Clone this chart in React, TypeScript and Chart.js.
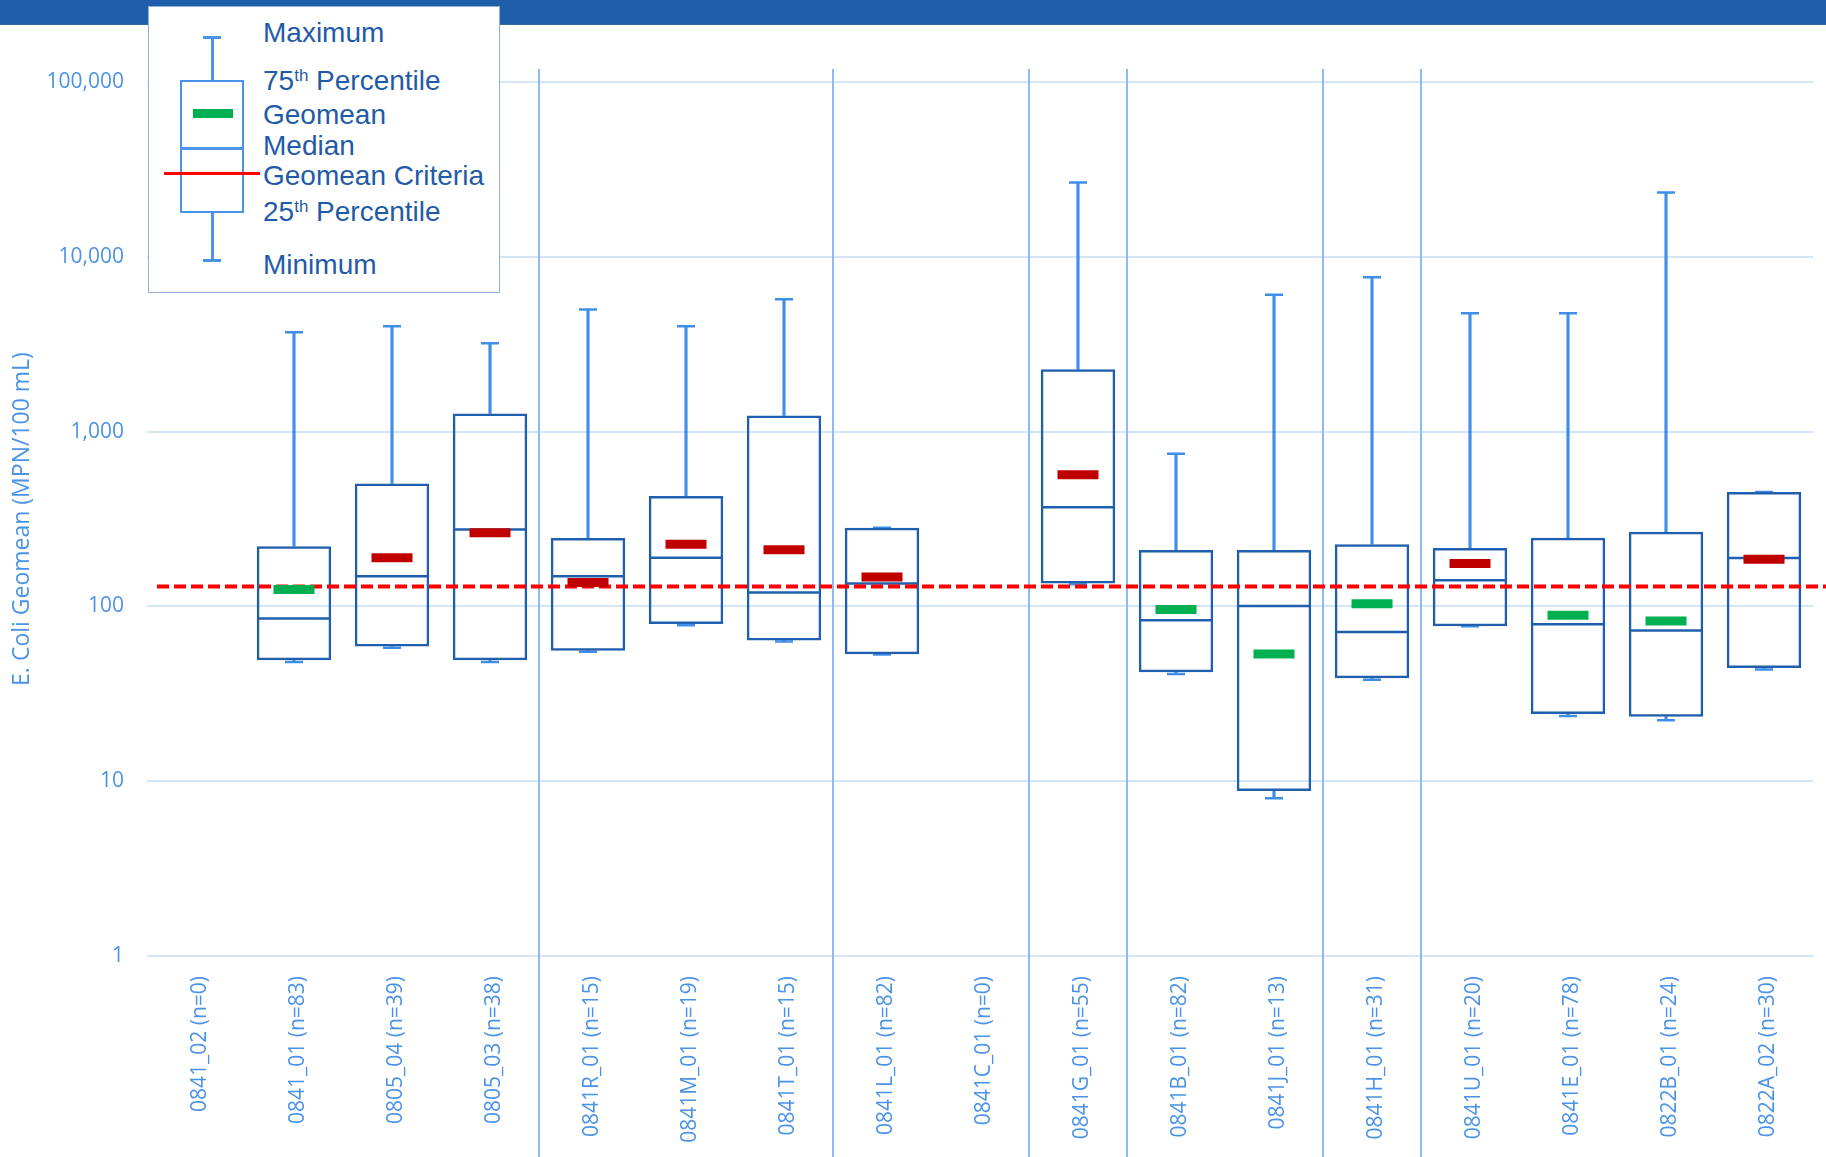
import React, { useEffect, useRef } from 'react';
import { Chart, registerables } from 'chart.js';

Chart.register(...registerables);

// ---------- data ----------
const sites = [
  '0841_02', '0841_01', '0805_04', '0805_03', '0841R_01', '0841M_01', '0841T_01', '0841L_01', '0841C_01',
  '0841G_01', '0841B_01', '0841J_01', '0841H_01', '0841U_01', '0841E_01', '0822B_01', '0822A_02',
];
const sampleCounts = [0, 83, 39, 38, 15, 19, 15, 82, 0, 55, 82, 13, 31, 20, 78, 24, 30];
const minValues = [null, 48, 58, 48, 55, 78, 63, 53, null, 134, 41, 8, 38, 77, 23.6, 22.3, 43.6];
const q1Values = [null, 49.2, 58.9, 49.2, 55.8, 79.2, 63.8, 53.2, null, 135, 42, 8.8, 38.8, 76.9, 24.2, 23.4, 44.4];
const medianValues = [null, 85.3, 148.6, 275, 148.6, 190, 120, 135, null, 369, 83.3, 100.6, 71.3, 141, 79, 72.9, 189];
const q3Values = [null, 221, 505, 1269, 246, 428, 1236, 282, null, 2270, 210, 210, 227, 216, 247, 267, 452];
const maxValues = [null, 3700, 4000, 3206, 5000, 4000, 5710, 282, null, 26650, 748, 6070, 7650, 4760, 4760, 23350, 452];
const geomeanValues = [null, 125, 190, 264, 137, 227, 211, 147.5, null, 567, 96, 53.5, 103.5, 176, 89, 82.6, 186];
const geomeanCriteria = 130;
const yTickValues = [1, 10, 100, 1000, 10000, 100000];
const separatorAfter = [3, 6, 8, 9, 11, 12];

const categoryLabels = sites.map((s, i) => `${s} (n=${sampleCounts[i]})`);

// ---------- styles ----------
const BOX_COLOR = '#1F5FAD';
const WHISKER_COLOR = '#3F8FE8';
const TICK_COLOR = '#4A93E6';
const GRID_COLOR = '#D5E5F8';
const SEPARATOR_COLOR = '#8DBAF0';
const GREEN = '#00B050';
const DARK_RED = '#C00000';
const LEGEND_TEXT = '#1F5BA8';
const FONT = "'Open Sans', 'Noto Sans', sans-serif";

const GEOMEAN_INDEX = 6;

const overlayPlugin = {
  id: 'overlay',
  beforeDatasetsDraw(chart: any) {
    const { ctx, chartArea } = chart;
    const x = chart.scales.x;
    ctx.save();
    ctx.strokeStyle = SEPARATOR_COLOR;
    ctx.lineWidth = 2;
    for (const i of separatorAfter) {
      const px = Math.round(x.getPixelForValue(i + 0.5));
      ctx.beginPath();
      ctx.moveTo(px, chartArea.top - 13);
      ctx.lineTo(px, chart.height);
      ctx.stroke();
    }
    ctx.restore();
  },
  beforeDatasetDraw(chart: any, args: any) {
    if (args.index !== GEOMEAN_INDEX) return;
    const { ctx, chartArea } = chart;
    const py = chart.scales.y.getPixelForValue(geomeanCriteria);
    ctx.save();
    ctx.strokeStyle = '#FF0000';
    ctx.lineWidth = 4;
    ctx.setLineDash([12, 5]);
    ctx.beginPath();
    ctx.moveTo(chartArea.left + 10, py);
    ctx.lineTo(chart.width, py);
    ctx.stroke();
    ctx.restore();
  },
};

function BoxChart() {
  const ref = useRef<HTMLCanvasElement | null>(null);
  useEffect(() => {
    if (!ref.current) return;
    const pair = (a: (number | null)[], b: (number | null)[]) =>
      a.map((v, i) => (v == null || b[i] == null ? null : [v, b[i] as number]));
    const chart = new Chart(ref.current, {
      type: 'bar',
      data: {
        labels: categoryLabels,
        datasets: [
          {
            type: 'bar',
            data: pair(q3Values, maxValues) as any,
            backgroundColor: WHISKER_COLOR,
            borderWidth: 0,
            barThickness: 2.5,
            grouped: false,
            order: 6,
          } as any,
          {
            type: 'bar',
            data: pair(minValues, q1Values) as any,
            backgroundColor: WHISKER_COLOR,
            borderWidth: 0,
            barThickness: 2.5,
            grouped: false,
            order: 6,
          } as any,
          {
            type: 'line',
            data: maxValues as any,
            showLine: false,
            pointStyle: 'line',
            pointRadius: 9,
            pointBorderWidth: 2.5,
            pointBorderColor: WHISKER_COLOR,
            order: 5,
          } as any,
          {
            type: 'line',
            data: minValues as any,
            showLine: false,
            pointStyle: 'line',
            pointRadius: 9,
            pointBorderWidth: 2.5,
            pointBorderColor: WHISKER_COLOR,
            order: 5,
          } as any,
          {
            type: 'bar',
            data: pair(q1Values, q3Values) as any,
            backgroundColor: 'rgba(255,255,255,0)',
            borderColor: BOX_COLOR,
            borderWidth: 2.5,
            borderSkipped: false,
            barPercentage: 0.76,
            categoryPercentage: 1,
            grouped: false,
            order: 3,
          } as any,
          {
            type: 'line',
            data: medianValues as any,
            showLine: false,
            pointStyle: 'line',
            pointRadius: 37,
            pointBorderWidth: 2.5,
            pointBorderColor: BOX_COLOR,
            order: 2,
          } as any,
          {
            type: 'line',
            data: geomeanValues as any,
            showLine: false,
            pointStyle: 'line',
            pointRadius: 20.5,
            pointBorderWidth: 9,
            pointBorderColor: geomeanValues.map((v) => (v != null && v > geomeanCriteria ? DARK_RED : GREEN)),
            order: 1,
          } as any,
        ],
      },
      options: {
        responsive: false,
        maintainAspectRatio: false,
        animation: false,
        events: [],
        layout: { autoPadding: false, padding: { left: 0, right: 13, top: 82, bottom: 0 } },
        plugins: { legend: { display: false }, tooltip: { enabled: false } },
        scales: {
          x: {
            type: 'category',
            offset: true,
            grid: { display: false, drawTicks: false },
            border: { display: false },
            ticks: {
              autoSkip: false,
              minRotation: 90,
              maxRotation: 90,
              padding: 20,
              labelOffset: 4,
              color: TICK_COLOR,
              font: { family: FONT, size: 21 },
            },
            afterFit: (s: any) => {
              s.height = 201;
            },
          },
          y: {
            type: 'logarithmic',
            min: 1,
            max: 100000,
            grid: { color: GRID_COLOR, lineWidth: 2, drawTicks: false },
            border: { display: false },
            afterBuildTicks: (s: any) => {
              s.ticks = yTickValues.map((v) => ({ value: v }));
            },
            ticks: {
              padding: 23,
              color: TICK_COLOR,
              font: { family: FONT, size: 21 },
              callback: (v: any) => Number(v).toLocaleString('en-US'),
            },
            title: {
              display: true,
              text: 'E. Coli Geomean (MPN/100 mL)',
              color: TICK_COLOR,
              font: { family: FONT, size: 23 },
              padding: { top: 9, bottom: 0 },
            },
            afterFit: (s: any) => {
              s.width = 147;
            },
          },
        },
      },
      plugins: [overlayPlugin],
    } as any);
    return () => chart.destroy();
  }, []);
  return <canvas ref={ref} width={1826} height={1157} style={{ display: 'block', width: 1826, height: 1157 }} />;
}

const legendLabelStyle = (top: number): React.CSSProperties => ({
  position: 'absolute',
  left: 114,
  top,
  fontFamily: "'Liberation Sans', Arial, sans-serif",
  fontSize: 28,
  lineHeight: '28px',
  color: LEGEND_TEXT,
  whiteSpace: 'nowrap',
});

const sup: React.CSSProperties = { fontSize: 17, position: 'relative', top: -9 };

function Legend() {
  const lb = '#4A93E6';
  const abs = (s: React.CSSProperties): React.CSSProperties => ({ position: 'absolute', ...s });
  return (
    <div
      style={{
        position: 'absolute',
        left: 148,
        top: 6,
        width: 352,
        height: 287,
        background: '#fff',
        border: '1.5px solid #8FB0DC',
        boxSizing: 'border-box',
      }}
    >
      <div style={abs({ left: 54, top: 29, width: 18, height: 2.5, background: lb })} />
      <div style={abs({ left: 62, top: 30, width: 2.5, height: 44, background: lb })} />
      <div style={abs({ left: 31, top: 73, width: 64, height: 133, border: `2.5px solid ${lb}`, boxSizing: 'border-box' })} />
      <div style={abs({ left: 44, top: 102, width: 40, height: 9, background: GREEN })} />
      <div style={abs({ left: 31, top: 140, width: 64, height: 2.5, background: lb })} />
      <div style={abs({ left: 15, top: 165, width: 96, height: 2.5, background: '#FF0000' })} />
      <div style={abs({ left: 62, top: 205, width: 2.5, height: 48, background: lb })} />
      <div style={abs({ left: 54, top: 252, width: 18, height: 2.5, background: lb })} />
      <div style={legendLabelStyle(12)}>Maximum</div>
      <div style={legendLabelStyle(60)}>
        75<span style={sup}>th</span> Percentile
      </div>
      <div style={legendLabelStyle(94)}>Geomean</div>
      <div style={legendLabelStyle(125)}>Median</div>
      <div style={legendLabelStyle(155)}>Geomean Criteria</div>
      <div style={legendLabelStyle(191)}>
        25<span style={sup}>th</span> Percentile
      </div>
      <div style={legendLabelStyle(244)}>Minimum</div>
    </div>
  );
}

export default function App() {
  return (
    <div style={{ position: 'fixed', left: 0, top: 0, width: 1826, height: 1157, background: '#fff', overflow: 'hidden' }}>
      <BoxChart />
      <div
        style={{
          position: 'absolute',
          left: 0,
          top: 0,
          width: 1826,
          height: 25,
          background: '#1F5FAA',
          borderBottom: '1px solid #356A9A',
          boxSizing: 'border-box',
        }}
      />
      <Legend />
    </div>
  );
}
